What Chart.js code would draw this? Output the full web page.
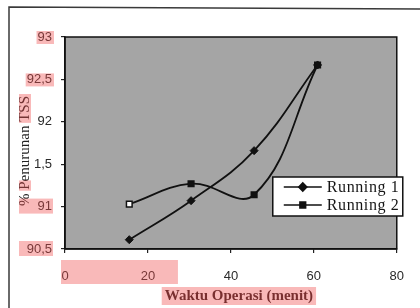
<!DOCTYPE html>
<html>
<head>
<meta charset="utf-8">
<script src="https://cdn.jsdelivr.net/npm/chart.js@4.4.1/dist/chart.umd.min.js"></script>
<style>
  html, body { margin: 0; padding: 0; background: #fff; }
  #wrap { width: 420px; height: 308px; position: relative; }
</style>
</head>
<body>
<div id="wrap"><canvas id="c" width="420" height="308"></canvas></div>
<script>
// ---- data ----
const waktu = [15.5, 30.4, 45.6, 60.9];            // Waktu Operasi (menit)
const running1 = [90.61, 91.07, 91.66, 92.67];     // % Penurunan TSS, Running 1
const running2 = [91.03, 91.27, 91.14, 92.67];     // % Penurunan TSS, Running 2
const seriesNames = ['Running 1', 'Running 2'];
const xTickValues = [0, 20, 40, 60, 80];
const xTickLabels = ['0', '20', '40', '60', '80'];
const yTickValues = [90.5, 91, 91.5, 92, 92.5, 93];
const yTickLabels = ['90,5', '91', '1,5', '92', '92,5', '93'];
const xTitle = 'Waktu Operasi (menit)';
const yTitle = '% Penurunan TSS';

const toPts = (xs, ys) => xs.map((x, i) => ({ x: x, y: ys[i] }));
const lookup = (vals, labels) => (v) => {
  const i = vals.findIndex(t => Math.abs(t - v) < 1e-6);
  return i >= 0 ? labels[i] : '';
};

const PINK = 'rgba(240,80,80,0.40)';
const SERIF = '"Liberation Serif", "DejaVu Serif", serif';

const decor = {
  id: 'decor',
  beforeDraw(chart) {
    const { ctx, chartArea: a } = chart;
    ctx.save();
    ctx.fillStyle = '#ffffff';
    ctx.fillRect(0, 0, chart.width, chart.height);
    ctx.fillStyle = '#a5a5a5';
    ctx.fillRect(a.left, a.top, a.right - a.left, a.bottom - a.top);
    // outer frame (left and top)
    ctx.strokeStyle = '#3a3a3a';
    ctx.lineWidth = 1.5;
    ctx.beginPath();
    ctx.moveTo(9, chart.height);
    ctx.lineTo(9, 7);
    ctx.lineTo(chart.width, 9);
    ctx.stroke();
    ctx.restore();
  },
  afterDraw(chart) {
    const { ctx, chartArea: a } = chart;
    const xs = chart.scales.x, ys = chart.scales.y;
    ctx.save();
    // plot border
    ctx.strokeStyle = '#111';
    ctx.lineWidth = 1.5;
    ctx.strokeRect(a.left, a.top, a.right - a.left, a.bottom - a.top);

    // legend
    const lw = 130, lh = 39;
    const lx = a.right - 124, ly = a.top + 140;
    ctx.fillStyle = '#fff';
    ctx.fillRect(lx, ly, lw, lh);
    ctx.strokeStyle = '#111';
    ctx.lineWidth = 1.5;
    ctx.strokeRect(lx, ly, lw, lh);
    chart.data.datasets.forEach((ds, i) => {
      const yy = ly + 10 + i * 18;
      ctx.strokeStyle = '#111';
      ctx.lineWidth = 1.6;
      ctx.beginPath();
      ctx.moveTo(lx + 11, yy);
      ctx.lineTo(lx + 49, yy);
      ctx.stroke();
      ctx.fillStyle = '#111';
      ctx.strokeStyle = '#111';
      Chart.helpers.drawPoint(ctx, { pointStyle: ds.pointStyle, radius: ds.pointRadius, rotation: 0, borderWidth: 1 }, lx + 30, yy);
      ctx.fillStyle = '#151515';
      ctx.font = '16px ' + SERIF;
      ctx.letterSpacing = '0.6px';
      ctx.textAlign = 'left';
      ctx.textBaseline = 'middle';
      ctx.fillText(ds.label, lx + 54, yy + 1);
      ctx.letterSpacing = '0px';
    });

    // y title (rotated)
    const tx = 25, ty = 151;
    ctx.font = '15px ' + SERIF;
    const W = ctx.measureText(yTitle).width;
    ctx.save();
    ctx.translate(tx, ty);
    ctx.rotate(-Math.PI / 2);
    ctx.fillStyle = '#222';
    ctx.textAlign = 'center';
    ctx.textBaseline = 'middle';
    ctx.fillText(yTitle, 0, 0);
    // highlights on parts of the title
    ctx.fillStyle = PINK;
    const wTSS = ctx.measureText('TSS').width;
    ctx.fillRect(W / 2 - wTSS - 1, -6, wTSS + 3, 12);
    const wPre = ctx.measureText('% ').width, wP = ctx.measureText('P').width;
    ctx.fillRect(-W / 2 + wPre - 1, -6, wP + 2, 12);
    ctx.restore();

    // x title
    ctx.font = 'bold 15px ' + SERIF;
    ctx.fillStyle = '#2a1a1a';
    ctx.textAlign = 'center';
    ctx.textBaseline = 'middle';
    const xc = (a.left + a.right) / 2 + 8, yc = a.bottom + 47;
    ctx.fillText(xTitle, xc, yc);
    const wx = ctx.measureText(xTitle).width;
    ctx.fillStyle = PINK;
    ctx.fillRect(xc - wx / 2 - 3, yc - 9, wx + 6, 18);

    // highlights on y tick labels
    ctx.font = '13px "Liberation Sans", Arial, sans-serif';
    [93, 92.5].forEach(v => {
      const w = ctx.measureText(lookup(yTickValues, yTickLabels)(v)).width;
      const r = a.left - 12, yp = ys.getPixelForValue(v);
      ctx.fillRect(r - w - 2, yp - 6, w + 3, 13);
    });
    [91, 90.5].forEach(v => {
      const r = a.left - 12, yp = ys.getPixelForValue(v);
      ctx.fillRect(tx - 6, yp - 8, r - (tx - 6), 15);
    });
    // highlight on first x tick labels
    const x0 = xs.getPixelForValue(xTickValues[0]), x1 = xs.getPixelForValue(xTickValues[1]);
    ctx.fillRect(x0 - 4, a.bottom + 11, (x1 + 30) - (x0 - 4), 24);
    ctx.restore();
  }
};

new Chart(document.getElementById('c'), {
  type: 'line',
  data: {
    datasets: [
      {
        label: seriesNames[0],
        data: toPts(waktu, running1),
        borderColor: '#111',
        backgroundColor: '#111',
        borderWidth: 1.8,
        pointStyle: 'rectRot',
        pointRadius: 4,
        pointBorderWidth: 1,
        pointBorderColor: '#111',
        pointBackgroundColor: '#111',
        tension: 0.4,
        fill: false
      },
      {
        label: seriesNames[1],
        data: toPts(waktu, running2),
        borderColor: '#111',
        backgroundColor: '#111',
        borderWidth: 1.8,
        pointStyle: 'rect',
        pointRadius: 4,
        pointBorderWidth: 1.5,
        pointBorderColor: '#111',
        pointBackgroundColor: ['#ffffff', '#111', '#111', '#111'],
        tension: 0.4,
        fill: false
      }
    ]
  },
  options: {
    responsive: false,
    animation: false,
    events: [],
    layout: { padding: { left: 0, right: 15, top: 37, bottom: 0 } },
    plugins: { legend: { display: false }, tooltip: { enabled: false }, title: { display: false } },
    scales: {
      x: {
        type: 'linear',
        min: 0, max: 80,
        afterFit(s) { s.height = 59; },
        afterBuildTicks(s) { s.ticks = xTickValues.map(v => ({ value: v })); },
        grid: { drawOnChartArea: false, drawTicks: true, tickLength: 4, color: '#222', lineWidth: 1.2 },
        border: { display: true, color: '#111', width: 1.5 },
        ticks: {
          callback: lookup(xTickValues, xTickLabels),
          padding: 16,
          color: '#2a2a2a',
          maxRotation: 0,
          autoSkip: false,
          font: { family: '"Liberation Sans", Arial, sans-serif', size: 13 }
        },
        title: { display: false }
      },
      y: {
        min: 90.5, max: 93,
        afterFit(s) { s.width = 65; },
        afterBuildTicks(s) { s.ticks = yTickValues.map(v => ({ value: v })); },
        grid: { drawOnChartArea: false, drawTicks: true, tickLength: 4, color: '#222', lineWidth: 1.2 },
        border: { display: true, color: '#111', width: 1.5 },
        ticks: {
          callback: lookup(yTickValues, yTickLabels),
          padding: 9,
          color: '#2a2a2a',
          autoSkip: false,
          font: { family: '"Liberation Sans", Arial, sans-serif', size: 13 }
        },
        title: { display: false }
      }
    }
  },
  plugins: [decor]
});
</script>
</body>
</html>
